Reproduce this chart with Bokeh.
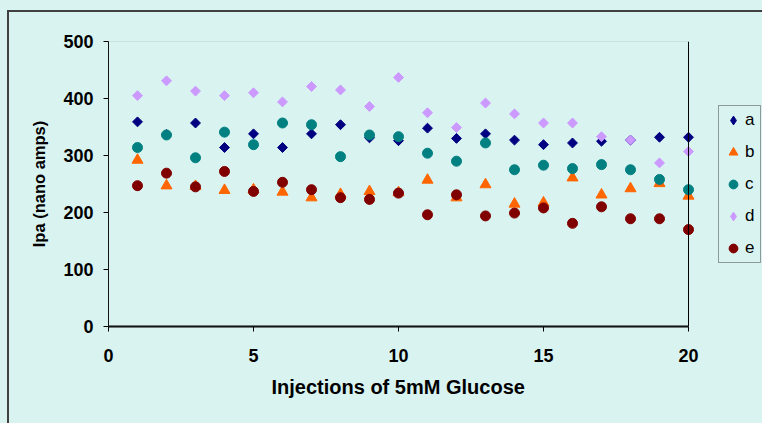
import math
from bokeh.plotting import figure
from bokeh.models import Legend, LegendItem, BoxAnnotation, FixedTicker, ColumnDataSource, Span, Title
from bokeh.embed import file_html
from bokeh.resources import INLINE

injections = list(range(1, 21))
series_names = ["a", "b", "c", "d", "e"]
a_vals = [359, 337, 357, 314, 338, 314, 338, 354, 331, 326, 348, 330, 338, 327, 319, 322, 325, 327, 332, 332]
b_vals = [292, 247, 246, 239, 240, 236, 226, 232, 237, 235, 257, 226, 249, 215, 217, 261, 231, 242, 251, 229]
c_vals = [314, 336, 296, 341, 319, 357, 354, 298, 336, 333, 304, 290, 322, 275, 283, 277, 284, 275, 258, 240]
d_vals = [405, 431, 413, 405, 410, 394, 421, 415, 386, 437, 375, 349, 392, 373, 357, 357, 333, 327, 287, 307]
e_vals = [247, 269, 245, 272, 237, 253, 240, 226, 223, 234, 196, 231, 194, 199, 208, 181, 210, 189, 189, 170]

x_ticks = [0, 5, 10, 15, 20]
y_ticks = [0, 100, 200, 300, 400, 500]
x_lo, x_hi = 0, 20
y_lo, y_hi = 0, 500

BG = "#D9F4F0"
EDGE = "#404040"
FONT = "Liberation Sans"

# frame spans from the y axis to the right edge so that the legend sits inside it
FRAME_L, AXIS_R, W = 108, 688, 762
x_end = x_hi * (W - FRAME_L) / (AXIS_R - FRAME_L)

p = figure(width=W, height=423, output_backend="svg", toolbar_location=None,
           x_range=(x_lo, x_end), y_range=(y_lo, y_hi),
           min_border_left=FRAME_L, min_border_right=0, min_border_top=41, min_border_bottom=97,
           background_fill_color=BG, border_fill_alpha=0)
p.styles = {
    "background": (f"linear-gradient({EDGE},{EDGE}) 7px 10px / 2px 440px no-repeat, "
                   f"linear-gradient({EDGE},{EDGE}) 7px 10px / 780px 2px no-repeat, {BG}")
}
p.grid.visible = False
p.outline_line_color = None

p.xaxis.ticker = FixedTicker(ticks=x_ticks)
p.yaxis.ticker = FixedTicker(ticks=y_ticks)
p.xaxis.bounds = (x_lo, x_hi)
for ax in (p.xaxis[0], p.yaxis[0]):
    ax.major_tick_out = 5
    ax.major_tick_in = 0
    ax.minor_tick_out = 0
    ax.minor_tick_in = 0
    ax.axis_line_color = "black"
    ax.major_tick_line_color = "black"
    ax.major_label_text_font = FONT
    ax.major_label_text_font_style = "bold"
    ax.major_label_text_font_size = "18px"
    ax.major_label_text_color = "black"
    ax.axis_label_text_font = FONT
    ax.axis_label_text_font_style = "bold"
    ax.axis_label_text_color = "black"
p.xaxis.axis_line_width = 2
p.yaxis.axis_line_width = 1
p.yaxis.axis_label = "Ipa (nano amps)"
p.yaxis.axis_label_text_font_size = "16.5px"
p.xaxis.major_label_standoff = 17
p.yaxis.major_label_standoff = 10
p.yaxis.axis_label_standoff = 12

p.add_layout(Title(text="Injections of 5mM Glucose", align="left", offset=163,
                   text_font=FONT, text_font_size="20px", text_font_style="bold",
                   text_color="black", standoff=19), "below")

# plot-area border: grey top, black right edge at x = 20
p.add_layout(BoxAnnotation(left=x_lo, right=x_hi, bottom=y_lo, top=y_hi,
                           fill_alpha=0, line_color="#808080", line_width=1))
p.add_layout(Span(location=x_hi, dimension="height", line_color="black", line_width=1))

src = ColumnDataSource(dict(x=injections, a=a_vals, b=b_vals, c=c_vals, d=d_vals, e=e_vals))

ra = p.scatter("x", "a", source=src, marker="square", angle=math.pi / 4, size=7,
               fill_color="#000080", line_color="#000080")
rb = p.scatter("x", "b", source=src, marker="triangle", size=11,
               fill_color="#FF6600", line_color="#FF6600")
rc = p.scatter("x", "c", source=src, marker="circle", size=10,
               fill_color="#008080", line_color="#008080")
rd = p.scatter("x", "d", source=src, marker="square", angle=math.pi / 4, size=7,
               fill_color="#CC99FF", line_color="#CC99FF")
re_ = p.scatter("x", "e", source=src, marker="circle", size=10,
                fill_color="#800000", line_color="#800000")

# legend-only diamond glyphs (nothing drawn in the plot)
nan = float("nan")
la = p.scatter(x=[nan], y=[nan], marker="diamond", fill_color="#000080", line_color="#000080")
ld = p.scatter(x=[nan], y=[nan], marker="diamond", fill_color="#CC99FF", line_color="#CC99FF")

leg_renderers = [la, rb, rc, ld, re_]
legend = Legend(items=[LegendItem(label=n, renderers=[r]) for n, r in zip(series_names, leg_renderers)],
                location=(718 - FRAME_L, 326 - 263), orientation="vertical",
                label_text_font=FONT, label_text_font_size="17px", label_text_color="black",
                label_height=22, label_width=12, glyph_height=22, glyph_width=22, spacing=10,
                padding=3, margin=0, label_standoff=1,
                border_line_color=EDGE, border_line_width=1,
                background_fill_color=BG, background_fill_alpha=1)
p.add_layout(legend, "center")

open("out.html", "w").write(file_html(p, INLINE))
